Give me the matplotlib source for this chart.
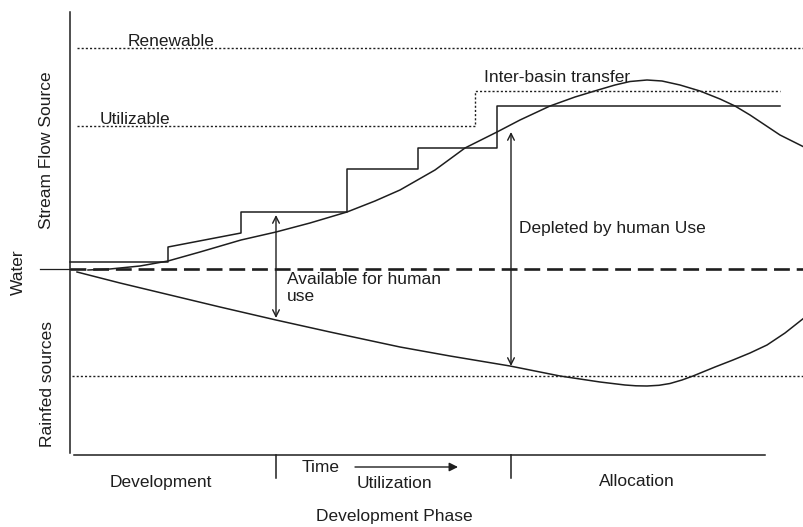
import matplotlib
matplotlib.use('Agg')
import matplotlib.pyplot as plt

plt.rcParams['font.family'] = ['Liberation Sans', 'DejaVu Sans']

# Schematic units: t = time (0 at the vertical axis), w = water (0 at the dashed line)
ink = '#1e1e1e'

# stepped supply curve (capacity built in steps)
step_t = [0, 98, 98, 171, 171, 277, 277, 348, 348, 427, 427, 710]
step_w = [7, 7, 22, 36, 57, 57, 100, 100, 121, 121, 163, 163]

# utilizable limit, raised by inter-basin transfer
util_t = [7, 405, 405, 710]
util_w = [143, 143, 178, 178]

renewable_w = 221
rainfed_w = -107

# stream flow use curve
up_t = [18, 40, 70, 98, 130, 171, 206, 240, 277, 305, 330, 365, 395, 427, 450,
        480, 505, 528, 545, 560, 577, 592, 610, 630, 650, 665, 680, 695, 710, 722, 734]
up_w = [-1, 0, 3, 8, 17, 29, 37, 46, 57, 68, 79, 99, 121, 137, 149,
        163, 172, 179, 184, 187.5, 189, 188, 184, 178, 170, 163, 154, 144, 134, 128, 122]

# rainfed use curve
lo_t = [7, 50, 100, 150, 206, 260, 330, 380, 440, 490, 530, 555, 566, 577, 589, 600,
        612, 623, 645, 663, 680, 697, 715, 734]
lo_w = [-3, -14, -26, -38, -51, -63, -78, -87, -97, -107, -113, -116, -116.8, -117, -116.3, -114.5,
        -111, -107, -98, -91, -84, -76, -64, -49]

# phase boundaries and arrows
phase_t = [206, 441]
avail_arrow = (206, 54, -49)
deplete_arrow = (441, 137, -97)

fig = plt.figure(figsize=(8.04, 5.27), dpi=100)
ax = fig.add_axes([0, 0, 1, 1])
ax.set_xlim(-70, 734)
ax.set_ylim(-258, 269)
ax.axis('off')

# axes frame
ax.plot([0, 0], [257, -184], color=ink, lw=1.1)
ax.plot([4, 695], [-186, -186], color=ink, lw=1.1)
for pt in phase_t:
    ax.plot([pt, pt], [-186, -209], color=ink, lw=1.1)

# reference lines
ax.plot([-30, 0], [0, 0], color=ink, lw=0.9)
ax.plot([0, 734], [0, 0], color=ink, lw=1.9, linestyle=(0, (6, 2.6)))
ax.plot([7, 734], [renewable_w, renewable_w], color=ink, lw=1.0, linestyle=(0, (1.5, 1.5)))
ax.plot(util_t, util_w, color=ink, lw=1.0, linestyle=(0, (1.5, 1.5)))
ax.plot([2, 734], [rainfed_w, rainfed_w], color=ink, lw=1.0, linestyle=(0, (1.5, 1.5)))

# curves
ax.plot(step_t, step_w, color=ink, lw=1.1)
ax.plot(up_t, up_w, color=ink, lw=1.1)
ax.plot(lo_t, lo_w, color=ink, lw=1.1)

for at, top, bot in [avail_arrow, deplete_arrow]:
    ax.annotate('', xy=(at, top), xytext=(at, bot),
                arrowprops=dict(arrowstyle='<->', color=ink, lw=1.0,
                                mutation_scale=12, shrinkA=0, shrinkB=0))

# time arrow
ax.annotate('', xy=(388, -198), xytext=(285, -198),
            arrowprops=dict(arrowstyle='-|>', color=ink, lw=1.0,
                            mutation_scale=13, shrinkA=0, shrinkB=0))

fs = 12.5
ax.text(58, 227, 'Renewable', fontsize=fs, color=ink, ha='left', va='center')
ax.text(30, 149, 'Utilizable', fontsize=fs, color=ink, ha='left', va='center')
ax.text(414, 191, 'Inter-basin transfer', fontsize=fs, color=ink, ha='left', va='center')
ax.text(449, 41, 'Depleted by human Use', fontsize=fs, color=ink, ha='left', va='center')
ax.text(217, -3, 'Available for human\nuse', fontsize=fs, color=ink, ha='left', va='top',
        linespacing=1.15)
ax.text(-23, 119, 'Stream Flow Source', fontsize=fs, color=ink, rotation=90,
        ha='center', va='center')
ax.text(-52, -3, 'Water', fontsize=fs, color=ink, rotation=90, ha='center', va='center')
ax.text(-22, -115, 'Rainfed sources', fontsize=fs, color=ink, rotation=90,
        ha='center', va='center')
ax.text(91, -214, 'Development', fontsize=fs, color=ink, ha='center', va='center')
ax.text(232, -198, 'Time', fontsize=fs, color=ink, ha='left', va='center')
ax.text(324, -214, 'Utilization', fontsize=fs, color=ink, ha='center', va='center')
ax.text(567, -213, 'Allocation', fontsize=fs, color=ink, ha='center', va='center')
ax.text(324, -248, 'Development Phase', fontsize=fs, color=ink, ha='center', va='center')

fig.savefig('out.png', dpi=100)
